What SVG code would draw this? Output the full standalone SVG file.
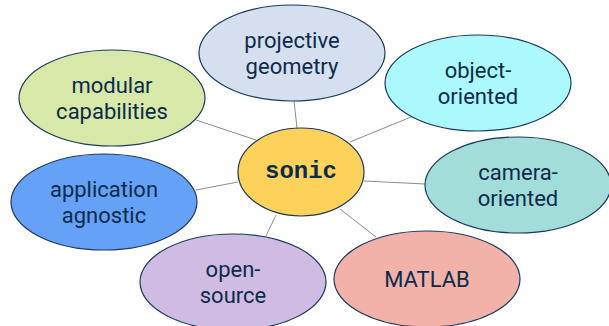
<svg xmlns="http://www.w3.org/2000/svg" width="609" height="326" viewBox="0 0 609 326">
<style>
.n ellipse{stroke:#1b3a5c;stroke-width:1.2}
.n text{font-family:Roboto,"Liberation Sans",sans-serif;font-size:22px;fill:#0c2b4b;text-anchor:middle}
#connectors line{stroke:#8c8c8c;stroke-width:1}
#sonic text{font-family:"Liberation Mono","DejaVu Sans Mono",monospace;font-weight:bold;font-size:24px}
</style>
<rect width="609" height="326" fill="#ffffff"/>
<g id="connectors">
<line x1="196" y1="120" x2="256" y2="140"/>
<line x1="294" y1="101" x2="297" y2="128"/>
<line x1="411" y1="117" x2="350" y2="142"/>
<line x1="196" y1="190" x2="238" y2="182"/>
<line x1="364" y1="181" x2="425" y2="184"/>
<line x1="266" y1="236" x2="276" y2="215"/>
<line x1="376" y1="237" x2="340" y2="209"/>
</g>
<g id="projective" class="n"><ellipse cx="292" cy="53" rx="93" ry="48" fill="#d5dff0"/><text x="292" y="48">projective</text><text x="292" y="74">geometry</text></g>
<g id="modular" class="n"><ellipse cx="112" cy="98" rx="93" ry="48" fill="#d7e8a8"/><text x="112" y="93">modular</text><text x="112" y="119">capabilities</text></g>
<g id="object" class="n"><ellipse cx="478" cy="83" rx="93" ry="48" fill="#abf9fd"/><text x="478" y="78">object-</text><text x="478" y="104">oriented</text></g>
<g id="camera" class="n"><ellipse cx="518" cy="185" rx="93" ry="48" fill="#a3ddd9"/><text x="518" y="180">camera-</text><text x="518" y="206">oriented</text></g>
<g id="application" class="n"><ellipse cx="104" cy="202" rx="93" ry="48" fill="#65a2f7"/><text x="104" y="197">application</text><text x="104" y="223">agnostic</text></g>
<g id="opensource" class="n"><ellipse cx="233" cy="282" rx="93" ry="48" fill="#d0bbe3"/><text x="233" y="277">open-</text><text x="233" y="303">source</text></g>
<g id="matlab" class="n"><ellipse cx="427" cy="279" rx="93" ry="48" fill="#f2b1a9"/><text x="427" y="287">MATLAB</text></g>
<g id="sonic" class="n"><ellipse cx="301" cy="172" rx="63" ry="44" fill="#fdd25b"/><text x="301" y="178">sonic</text></g>
</svg>
